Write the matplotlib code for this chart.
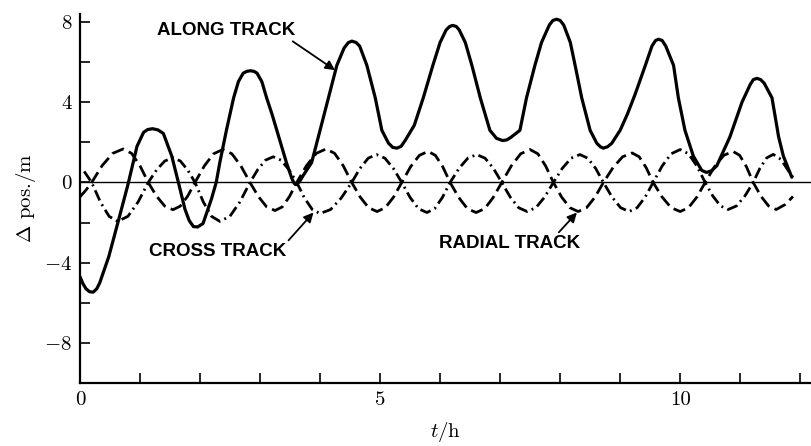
import matplotlib
matplotlib.use("Agg")
import matplotlib.pyplot as plt

plt.rcParams['font.family'] = 'serif'
plt.rcParams['font.serif'] = ['cmr10']
plt.rcParams['mathtext.fontset'] = 'cm'
plt.rcParams['axes.formatter.use_mathtext'] = True

# along track position error (solid)
t_along = [0.0, 0.05, 0.1, 0.16, 0.22, 0.28, 0.33, 0.48, 0.65, 0.8,
           0.95, 1.06, 1.13, 1.21, 1.3, 1.39, 1.53, 1.64, 1.75, 1.82,
           1.89, 1.96, 2.05, 2.19, 2.27, 2.33, 2.44, 2.56, 2.64, 2.72,
           2.78, 2.84, 2.9, 2.95, 3.03, 3.11, 3.2, 3.28, 3.44, 3.53,
           3.57, 3.61, 3.66, 3.72, 3.86, 4.0, 4.14, 4.28, 4.4, 4.47,
           4.53, 4.6, 4.66, 4.78, 4.92, 5.03, 5.14, 5.21, 5.28, 5.35,
           5.42, 5.57, 5.72, 5.88, 6.0, 6.1, 6.16, 6.21, 6.27, 6.32,
           6.42, 6.53, 6.67, 6.83, 6.94, 7.04, 7.11, 7.18, 7.33, 7.44,
           7.58, 7.69, 7.82, 7.88, 7.94, 8.0, 8.06, 8.17, 8.25, 8.36,
           8.5, 8.61, 8.67, 8.72, 8.79, 8.86, 9.0, 9.12, 9.25, 9.42,
           9.53, 9.59, 9.64, 9.7, 9.76, 9.89, 9.97, 10.08, 10.22, 10.36,
           10.44, 10.52, 10.61, 10.83, 11.03, 11.17, 11.22, 11.28, 11.34, 11.4,
           11.53, 11.64, 11.72, 11.86]
pos_along = [-4.7, -5.05, -5.3, -5.45, -5.47, -5.3, -5.0, -3.7, -1.8, -0.1,
             1.8, 2.5, 2.64, 2.68, 2.62, 2.44, 1.31, 0.0, -1.34, -1.9,
             -2.2, -2.22, -2.05, -0.83, 0.0, 0.99, 2.6, 4.22, 5.03, 5.45,
             5.54, 5.57, 5.54, 5.45, 5.03, 4.22, 3.4, 2.6, 0.99, 0.2,
             -0.05, -0.1, 0.05, 0.35, 0.99, 2.6, 4.22, 5.84, 6.7, 6.97,
             7.05, 6.98, 6.8, 5.84, 4.22, 2.6, 1.96, 1.75, 1.71, 1.8,
             2.1, 2.85, 4.22, 5.84, 6.98, 7.6, 7.78, 7.83, 7.78, 7.6,
             6.98, 5.84, 4.22, 2.6, 2.2, 2.09, 2.12, 2.25, 2.6, 4.22,
             5.84, 6.98, 7.85, 8.08, 8.14, 8.08, 7.85, 6.98, 5.84, 4.22,
             2.6, 1.96, 1.78, 1.71, 1.78, 1.95, 2.6, 3.4, 4.4, 5.84,
             6.8, 7.08, 7.14, 7.08, 6.8, 5.84, 4.22, 2.6, 1.31, 0.6,
             0.5, 0.58, 0.83, 2.28, 4.0, 4.9, 5.13, 5.19, 5.13, 4.95,
             4.22, 2.28, 1.31, 0.26]

# radial track (dashed)
t_radial = [0.0, 0.1, 0.195, 0.37, 0.545, 0.72, 0.86, 0.999, 1.138,
            1.275, 1.413, 1.55, 1.672, 1.795, 1.917,
            2.071, 2.226, 2.38, 2.531, 2.682, 2.833,
            2.972, 3.111, 3.25, 3.371, 3.491, 3.612,
            3.775, 3.937, 4.1, 4.243, 4.385, 4.528,
            4.669, 4.809, 4.95, 5.087, 5.225, 5.362,
            5.508, 5.654, 5.8, 5.922, 6.045, 6.167,
            6.311, 6.456, 6.6, 6.743, 6.885, 7.028,
            7.185, 7.343, 7.5, 7.629, 7.759, 7.888,
            8.025, 8.163, 8.3, 8.441, 8.581, 8.722,
            8.881, 9.041, 9.2, 9.317, 9.433, 9.55,
            9.7, 9.85, 10.0, 10.139, 10.278, 10.417,
            10.571, 10.726, 10.88, 10.992, 11.105, 11.217,
            11.345, 11.472, 11.6, 11.75, 11.88]
pos_radial = [-0.72, -0.38, 0.0, 0.84, 1.45, 1.67, 1.45, 0.84, 0.0,
              -0.68, -1.18, -1.36, -1.18, -0.68, 0.0,
              0.82, 1.43, 1.64, 1.43, 0.82, 0.0,
              -0.7, -1.22, -1.4, -1.22, -0.7, 0.0,
              0.84, 1.45, 1.67, 1.45, 0.84, 0.0,
              -0.73, -1.26, -1.45, -1.26, -0.73, 0.0,
              0.78, 1.35, 1.55, 1.35, 0.78, 0.0,
              -0.75, -1.31, -1.5, -1.31, -0.75, 0.0,
              0.82, 1.43, 1.64, 1.43, 0.82, 0.0,
              -0.73, -1.26, -1.45, -1.26, -0.73, 0.0,
              0.74, 1.28, 1.47, 1.28, 0.74, 0.0,
              -0.73, -1.26, -1.45, -1.26, -0.73, 0.0,
              0.78, 1.35, 1.55, 1.35, 0.78, 0.0,
              -0.68, -1.17, -1.35, -1.1, -0.7]

# cross track (dash-dot)
t_cross = [0.07, 0.195,
           0.34, 0.485, 0.63, 0.799, 0.969, 1.138,
           1.275, 1.413, 1.55, 1.672, 1.795, 1.917,
           2.055, 2.192, 2.33, 2.498, 2.665, 2.833,
           2.962, 3.091, 3.22, 3.351, 3.481, 3.612,
           3.741, 3.871, 4.0, 4.176, 4.352, 4.528,
           4.665, 4.803, 4.94, 5.081, 5.221, 5.362,
           5.501, 5.641, 5.78, 5.909, 6.038, 6.167,
           6.315, 6.462, 6.61, 6.749, 6.889, 7.028,
           7.169, 7.309, 7.45, 7.596, 7.742, 7.888,
           8.035, 8.183, 8.33, 8.461, 8.592, 8.722,
           8.865, 9.008, 9.15, 9.283, 9.417, 9.55,
           9.7, 9.85, 10.0, 10.139, 10.278, 10.417,
           10.545, 10.672, 10.8, 10.939, 11.078, 11.217,
           11.328, 11.439, 11.55, 11.68, 11.8, 11.88]
pos_cross = [0.55, 0.0,
             -0.97, -1.69, -1.94, -1.69, -0.97, 0.0,
             0.62, 1.07, 1.23, 1.07, 0.62, 0.0,
             -0.97, -1.69, -1.94, -1.69, -0.97, 0.0,
             0.64, 1.11, 1.28, 1.11, 0.64, 0.0,
             -0.78, -1.35, -1.55, -1.35, -0.78, 0.0,
             0.7, 1.21, 1.39, 1.21, 0.7, 0.0,
             -0.75, -1.31, -1.5, -1.31, -0.75, 0.0,
             0.7, 1.21, 1.39, 1.21, 0.7, 0.0,
             -0.73, -1.26, -1.45, -1.26, -0.73, 0.0,
             0.7, 1.21, 1.39, 1.21, 0.7, 0.0,
             -0.73, -1.26, -1.45, -1.26, -0.73, 0.0,
             0.82, 1.43, 1.64, 1.43, 0.82, 0.0,
             -0.68, -1.17, -1.35, -1.17, -0.68, 0.0,
             0.7, 1.22, 1.4, 1.15, 0.6, 0.25]

x_ticks = list(range(13))
x_labels = ['0', '', '', '', '', '5', '', '', '', '', '10', '', '']
y_ticks = [-8, -6, -4, -2, 0, 2, 4, 6, 8]
y_labels = ['$-8$', '', '$-4$', '', '0', '', '4', '', '8']

fig = plt.figure(figsize=(8.11, 4.46), dpi=100)
ax = fig.add_axes([0.0986, 0.1413, 0.9014, 0.8273])

ax.axhline(0, color='black', lw=1.0, zorder=1)
ax.plot(t_along, pos_along, color='black', lw=2.3, solid_capstyle='round',
        solid_joinstyle='round', zorder=3)
l_rad, = ax.plot(t_radial, pos_radial, color='black', lw=2.0, zorder=2)
l_rad.set_dashes([4.5, 2.0])
l_cr, = ax.plot(t_cross, pos_cross, color='black', lw=2.0, zorder=2)
l_cr.set_dashes([4.0, 1.6, 0.7, 1.6])

ax.set_xlim(0, 12.18)
ax.set_ylim(-10, 8.4)
ax.set_xticks(x_ticks)
ax.set_xticklabels(x_labels)
ax.set_yticks(y_ticks)
ax.set_yticklabels(y_labels)
ax.tick_params(direction='in', length=7, width=1.2, labelsize=15, pad=6)
for side in ['top', 'right']:
    ax.spines[side].set_visible(False)
for side in ['left', 'bottom']:
    ax.spines[side].set_linewidth(1.6)

ax.set_xlabel('$t$/h', fontsize=15, labelpad=8)
ax.set_ylabel(r'$\Delta$ pos./m', fontsize=15, labelpad=4)

lbl = dict(fontsize=13.5, fontweight='bold', family='Liberation Sans',
           ha='center', va='center')
ax.annotate('ALONG TRACK', xy=(4.25, 5.6), xytext=(2.44, 7.6),
            arrowprops=dict(arrowstyle='-|>', color='black', lw=1.3,
                            mutation_scale=14, shrinkA=0, shrinkB=0,
                            relpos=(0.95, 0.0)), **lbl)
ax.annotate('CROSS TRACK', xy=(3.89, -1.5), xytext=(2.29, -3.45),
            arrowprops=dict(arrowstyle='-|>', color='black', lw=1.3,
                            mutation_scale=14, shrinkA=0, shrinkB=0,
                            relpos=(1.0, 1.0)), **lbl)
ax.annotate('RADIAL TRACK', xy=(8.28, -1.5), xytext=(7.16, -3.05),
            arrowprops=dict(arrowstyle='-|>', color='black', lw=1.3,
                            mutation_scale=14, shrinkA=0, shrinkB=0,
                            relpos=(0.83, 1.0)), **lbl)

fig.savefig('out.png', dpi=100, facecolor='white')
